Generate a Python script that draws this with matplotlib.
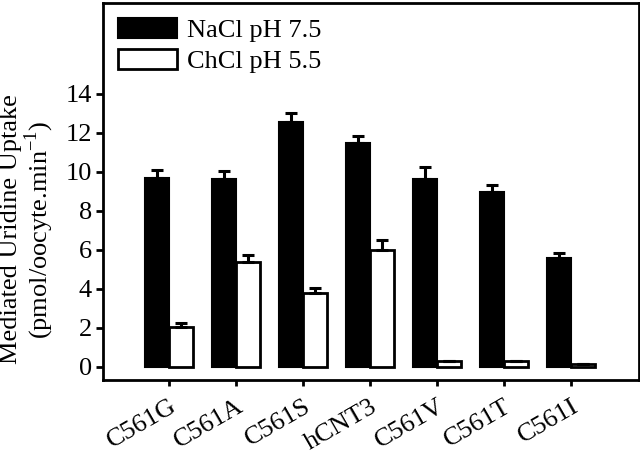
import matplotlib

matplotlib.use("Agg")
import matplotlib.pyplot as plt
import numpy as np

# values
mutants = ["C561G", "C561A", "C561S", "hCNT3", "C561V", "C561T", "C561I"]
nacl_mean = [9.65, 9.62, 12.55, 11.45, 9.62, 8.95, 5.58]
nacl_err = [0.42, 0.40, 0.47, 0.38, 0.64, 0.38, 0.22]
chcl_mean = [2.02, 5.36, 3.75, 5.97, 0.26, 0.26, 0.12]
chcl_err = [0.22, 0.38, 0.28, 0.50, 0.03, 0.03, 0.02]
legend_labels = ["NaCl pH 7.5", "ChCl pH 5.5"]

plt.rcParams["font.family"] = ["Liberation Serif", "DejaVu Serif"]

fig = plt.figure(figsize=(6.4, 4.54), dpi=100)
ax = fig.add_axes([0.161, 0.163, 0.837, 0.830])

x = np.arange(len(mutants))
w = 0.36
err_kw = dict(ecolor="black", elinewidth=2.2, capsize=4, capthick=2.2)

ax.bar(x - w / 2, nacl_mean, w, color="black", edgecolor="black", linewidth=1.5,
       yerr=[np.zeros(len(x)), nacl_err], error_kw=err_kw, label=legend_labels[0])
ax.bar(x + w / 2, chcl_mean, w, color="white", edgecolor="black", linewidth=2,
       yerr=[np.zeros(len(x)), chcl_err], error_kw=err_kw, label=legend_labels[1])

ax.set_xlim(-0.985, 7.01)
ax.set_ylim(-0.69, 18.64)
ax.set_yticks(range(0, 15, 2))
ax.set_xticks(x)
ax.set_xticklabels(mutants, rotation=30, ha="right", rotation_mode="anchor")

for s in ax.spines.values():
    s.set_linewidth(2)
ax.tick_params(axis="both", direction="out", width=2, labelsize=19)
ax.tick_params(axis="y", length=5, pad=3)
ax.tick_params(axis="x", length=4, pad=7)

ax.set_ylabel("Mediated Uridine Uptake\n(pmol/oocyte.min$^{\\mathregular{-1}}$)",
              fontsize=19, linespacing=1.05)
ax.yaxis.set_label_coords(-0.087, 0.40)

ax.legend(loc="upper left", frameon=False, fontsize=19, handlelength=2.25,
          handleheight=0.8, handletextpad=0.4, labelspacing=0.25,
          borderaxespad=0.15, bbox_to_anchor=(0.0, 1.0))

fig.savefig("out.png", dpi=100)
